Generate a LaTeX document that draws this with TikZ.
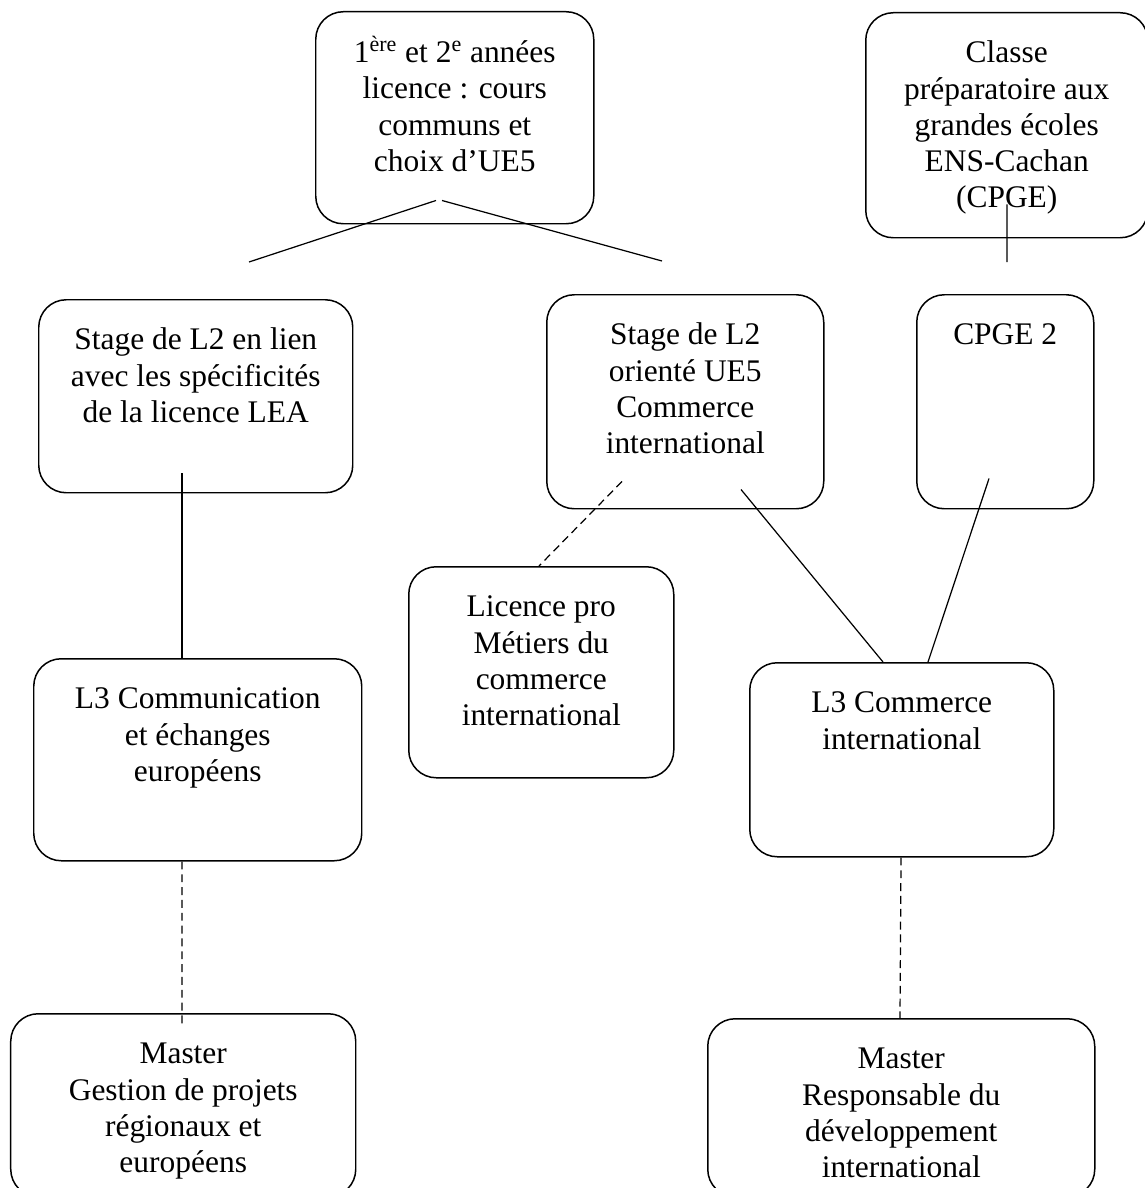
\documentclass[tikz,border=0pt]{standalone}
\usepackage{fontspec}
\setmainfont{Liberation Serif}

% texte cale en haut de la boite
\newcommand{\cadre}[3]{\parbox[c][#2][t]{#1}{\centering\vspace*{14pt}\strut #3}}

\tikzset{
  boite/.style={draw, rounded corners=0.55cm, line width=0.85pt, inner sep=0pt, anchor=north west, font=\fontsize{17.9}{20.65}\selectfont},
  trait/.style={line width=0.7pt},
  pointille/.style={line width=0.7pt, dash pattern=on 4.5pt off 2.8pt}
}

\begin{document}
\begin{tikzpicture}
  \useasboundingbox (0,0) rectangle (22.9,-23.76);

  % licence 1 et 2, prepa
  \node[boite] (annees) at (6.30,-0.22) {\cadre{5.56cm}{4.24cm}{1\textsuperscript{ère} et 2\textsuperscript{e} années\\ licence : cours\\ communs et\\ choix d’UE5}};
  \node[boite] (cpge) at (17.30,-0.24) {\cadre{5.64cm}{4.50cm}{Classe\\ préparatoire aux\\ grandes écoles\\ ENS-Cachan\\ (CPGE)}};

  % stages
  \node[boite] (lea) at (0.76,-5.98) {\cadre{6.28cm}{3.86cm}{Stage de L2 en lien\\ avec les spécificités\\ de la licence LEA}};
  \node[boite] (ue5) at (10.92,-5.88) {\cadre{5.54cm}{4.28cm}{Stage de L2\\ orienté UE5\\ Commerce\\ international}};
  \node[boite] (cpge2) at (18.32,-5.88) {\cadre{3.54cm}{4.28cm}{CPGE 2}};

  % L3
  \node[boite] (lpro) at (8.16,-11.32) {\cadre{5.30cm}{4.22cm}{Licence pro\\ Métiers du\\ commerce\\ international}};
  \node[boite] (l3com) at (0.66,-13.16) {\cadre{6.56cm}{4.04cm}{L3 Communication\\ et échanges\\ européens}};
  \node[boite] (l3ci) at (14.98,-13.24) {\cadre{6.08cm}{3.88cm}{L3 Commerce\\ international}};

  % masters
  \node[boite] (mgest) at (0.20,-20.26) {\cadre{6.90cm}{3.66cm}{Master\\ Gestion de projets\\ régionaux et\\ européens}};
  \node[boite] (mresp) at (14.14,-20.36) {\cadre{7.74cm}{3.56cm}{Master\\ Responsable du\\ développement\\ international}};

  \coordinate (fourche g) at (4.98,-5.24);
  \coordinate (fourche d) at (13.24,-5.22);
  \coordinate (prepa) at (20.14,-5.24);

  \draw[trait] ([xshift=2.42cm,yshift=0.48cm]annees.south west) -- (fourche g);
  \draw[trait] ([xshift=2.54cm,yshift=0.48cm]annees.south west) -- (fourche d);
  \draw[trait] ([xshift=2.84cm,yshift=0.68cm]cpge.south west) -- (prepa);

  \draw[trait] ([xshift=2.88cm,yshift=0.40cm]lea.south west) -- ([xshift=2.98cm]l3com.north west);
  \draw[pointille] ([xshift=1.52cm,yshift=0.56cm]ue5.south west) -- ([xshift=2.62cm]lpro.north west);
  \draw[trait] ([xshift=3.90cm,yshift=0.40cm]ue5.south west) -- ([xshift=2.68cm]l3ci.north west);
  \draw[trait] ([xshift=1.46cm,yshift=0.62cm]cpge2.south west) -- ([xshift=3.58cm]l3ci.north west);

  \draw[pointille] ([xshift=2.98cm]l3com.south west) -- ([xshift=3.44cm,yshift=-0.24cm]mgest.north west);
  \draw[pointille] ([xshift=3.04cm]l3ci.south west) -- ([xshift=3.86cm]mresp.north west);
\end{tikzpicture}
\end{document}
